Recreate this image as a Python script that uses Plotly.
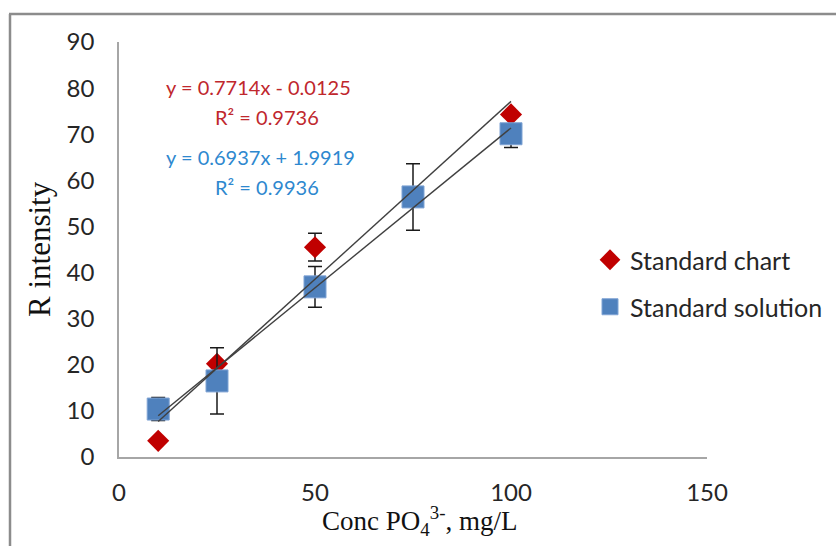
import numpy as np
import plotly.graph_objects as go

# ---- data ----
chart_x = [10, 25, 50, 100]
chart_y = [3.5, 20.2, 45.5, 74.3]
chart_err = [0, 0, 3.0, 0]

sol_x = [10, 25, 50, 75, 100]
sol_y = [10.4, 16.5, 36.9, 56.4, 70.1]
sol_err_plus = [2.5, 7.2, 4.4, 7.2, 2.0]
sol_err_minus = [2.5, 7.2, 4.4, 7.2, 3.0]

series_names = ["Standard chart", "Standard solution"]
slopes = [0.7714, 0.6937]
intercepts = [-0.0125, 1.9919]
r2 = [0.9736, 0.9936]

x_ticks = [0, 50, 100, 150]
y_ticks = [0, 10, 20, 30, 40, 50, 60, 70, 80, 90]

RED = "#C00000"
BLUE = "#4F81BD"
LINE = "#404040"
TXT = "#262626"
FONT = "Lato"
SERIF = "Liberation Serif"

fig = go.Figure()

fig.add_trace(go.Scatter(
    x=chart_x, y=chart_y, mode="markers", name=series_names[0],
    marker=dict(symbol="diamond", size=17, color=RED, line=dict(width=0)),
    error_y=dict(type="data", array=chart_err, color="#1a1a1a", thickness=1.5, width=7),
    legend="legend",
))
fig.add_trace(go.Scatter(
    x=sol_x, y=sol_y, mode="markers", name=series_names[1],
    marker=dict(symbol="square", size=22, color=BLUE, line=dict(width=1, color="#7FA3D4")),
    error_y=dict(type="data", array=sol_err_plus, arrayminus=sol_err_minus,
                 symmetric=False, color="#1a1a1a", thickness=1.5, width=7),
    legend="legend2",
))

# trendlines from displayed equations, spanning each series' x range
for xs, m, b in [(chart_x, slopes[0], intercepts[0]), (sol_x, slopes[1], intercepts[1])]:
    xe = np.array([min(xs), max(xs)], dtype=float)
    fig.add_trace(go.Scatter(
        x=xe, y=m * xe + b, mode="lines", showlegend=False, hoverinfo="skip",
        line=dict(color=LINE, width=1.4),
    ))

def eq_text(m, b):
    sign = "+" if b >= 0 else "-"
    return f"y = {m:.4f}x {sign} {abs(b):.4f}"

def py(p):
    return (457 - p) / 415

def px(p):
    return (p - 119) / 588

annots = [
    dict(text=eq_text(slopes[0], intercepts[0]), x=px(258), y=py(87), color="#C0272D"),
    dict(text=f"R² = {r2[0]:.4f}", x=px(267), y=py(117), color="#C0272D"),
    dict(text=eq_text(slopes[1], intercepts[1]), x=px(260), y=py(157), color="#2E88CF"),
    dict(text=f"R² = {r2[1]:.4f}", x=px(267), y=py(187), color="#2E88CF"),
]
annotations = []
for a in annots:
    annotations.append(dict(
        text=a["text"], x=a["x"], y=a["y"], xref="paper", yref="paper",
        showarrow=False, xanchor="center", yanchor="middle",
        font=dict(family=FONT, size=20, color=a["color"]),
    ))
# axis titles
annotations.append(dict(
    text="R intensity", x=px(40), y=py(249),
    xref="paper", yref="paper", showarrow=False, textangle=-90,
    xanchor="center", yanchor="middle",
    font=dict(family=SERIF, size=31, color="#111"),
))
annotations.append(dict(
    text="Conc PO<sub>4</sub><sup>3-</sup>, mg/L", x=px(419), y=py(521),
    xref="paper", yref="paper", showarrow=False,
    xanchor="center", yanchor="middle",
    font=dict(family=SERIF, size=27, color="#111"),
))

shapes = [
    dict(type="line", xref="paper", yref="paper",
         x0=px(9), x1=px(840), y0=py(14), y1=py(14),
         line=dict(color="#8C8C8C", width=2.5)),
    dict(type="line", xref="paper", yref="paper",
         x0=px(10), x1=px(10), y0=py(14), y1=py(550),
         line=dict(color="#8C8C8C", width=2.5)),
]

fig.update_layout(
    width=836, height=546,
    margin=dict(l=119, r=129, t=42, b=89, autoexpand=False),
    paper_bgcolor="white", plot_bgcolor="white",
    font=dict(family=FONT, color=TXT),
    xaxis=dict(range=[0, 150], tickvals=x_ticks, showgrid=False, zeroline=False,
               showline=True, linecolor="#A6A6A6", linewidth=1.5, ticks="",
               tickfont=dict(family=FONT, size=24, color=TXT), ticklabelstandoff=13),
    yaxis=dict(range=[0, 90], tickvals=y_ticks, showgrid=False, zeroline=False,
               showline=True, linecolor="#A6A6A6", linewidth=1.5, ticks="",
               tickfont=dict(family=FONT, size=24, color=TXT), ticklabelstandoff=18),
    legend=dict(x=px(590), y=py(260), xanchor="left", yanchor="middle",
                font=dict(family=FONT, size=25, color=TXT), bgcolor="rgba(0,0,0,0)"),
    legend2=dict(x=px(590), y=py(307), xanchor="left", yanchor="middle",
                 font=dict(family=FONT, size=25, color=TXT), bgcolor="rgba(0,0,0,0)"),
    annotations=annotations,
    shapes=shapes,
)

fig.write_html("out.html")
